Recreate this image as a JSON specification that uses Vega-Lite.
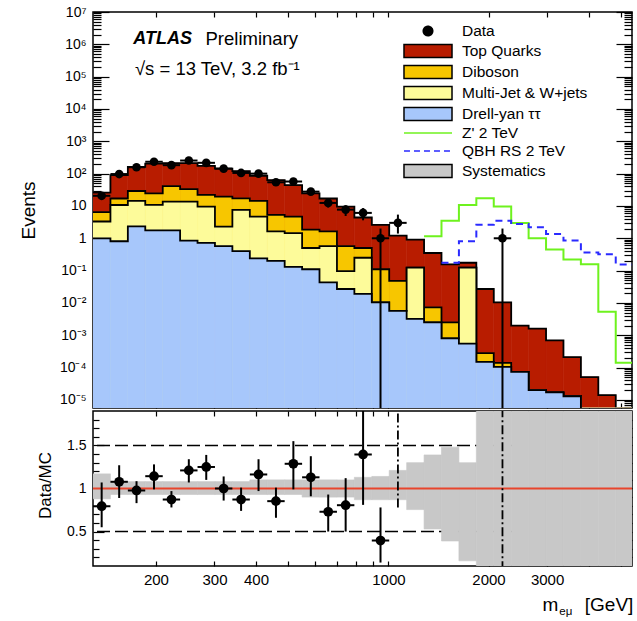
{
  "$schema": "https://vega.github.io/schema/vega-lite/v6.json",
  "background": "white",
  "padding": {"left": 18, "top": 4, "right": 0, "bottom": 0},
  "spacing": 3,
  "bounds": "flush",
  "config": {
    "view": {"stroke": "black", "strokeWidth": 1.5},
    "font": "Liberation Sans",
    "axis": {"grid": false, "labelColor": "black", "titleColor": "black", "tickColor": "black", "labelFont": "Liberation Sans", "titleFont": "Liberation Sans", "titleFontWeight": "normal"},
    "legend": {"orient": "none", "legendX": 327, "legendY": 11, "title": null, "labelFontSize": 15.5, "labelFont": "Liberation Sans", "labelColor": "black", "labelOffset": 26, "rowPadding": 1, "symbolSize": 196, "symbolStrokeWidth": 1.5, "symbolOpacity": 1, "padding": 0, "labelLimit": 400}
  },
  "datasets": {
    "bins": [
      {"lo": 129.4, "hi": 146.0, "c": 137.4, "dy": 1.0, "mj": 3.3, "db": 6.4, "tot": 26, "d": 20.6, "dlo": 16.1, "dhi": 25.1, "r": 0.794, "rlo": 0.55, "rhi": 1.07, "blo": 0.88, "bhi": 1.17},
      {"lo": 146.0, "hi": 164.7, "c": 155.1, "dy": 0.81, "mj": 10.7, "db": 17, "tot": 90, "d": 97, "dlo": 87.2, "dhi": 106.8, "r": 1.078, "rlo": 0.89, "rhi": 1.27, "blo": 0.93, "bhi": 1.08},
      {"lo": 164.7, "hi": 185.8, "c": 174.9, "dy": 2.33, "mj": 14.3, "db": 29, "tot": 162, "d": 158, "dlo": 145.4, "dhi": 170.6, "r": 0.977, "rlo": 0.83, "rhi": 1.085, "blo": 0.93, "bhi": 1.08},
      {"lo": 185.8, "hi": 209.7, "c": 197.4, "dy": 1.76, "mj": 10.8, "db": 24.5, "tot": 204, "d": 233, "dlo": 217.7, "dhi": 248.3, "r": 1.143, "rlo": 0.99, "rhi": 1.28, "blo": 0.93, "bhi": 1.08},
      {"lo": 209.7, "hi": 236.5, "c": 222.7, "dy": 1.76, "mj": 13.6, "db": 41, "tot": 210, "d": 183, "dlo": 169.5, "dhi": 196.5, "r": 0.872, "rlo": 0.78, "rhi": 0.97, "blo": 0.93, "bhi": 1.08},
      {"lo": 236.5, "hi": 266.8, "c": 251.2, "dy": 0.85, "mj": 13.6, "db": 33, "tot": 210, "d": 254, "dlo": 238.1, "dhi": 269.9, "r": 1.21, "rlo": 1.07, "rhi": 1.34, "blo": 0.93, "bhi": 1.08},
      {"lo": 266.8, "hi": 301.0, "c": 283.4, "dy": 0.72, "mj": 9.6, "db": 22, "tot": 173, "d": 216, "dlo": 201.3, "dhi": 230.7, "r": 1.25, "rlo": 1.10, "rhi": 1.39, "blo": 0.93, "bhi": 1.08},
      {"lo": 301.0, "hi": 339.6, "c": 319.7, "dy": 0.57, "mj": 2.3, "db": 19.4, "tot": 143, "d": 143, "dlo": 131, "dhi": 155, "r": 1.0, "rlo": 0.86, "rhi": 1.14, "blo": 0.93, "bhi": 1.08},
      {"lo": 339.6, "hi": 383.2, "c": 360.7, "dy": 0.4, "mj": 7.6, "db": 17.2, "tot": 120, "d": 105, "dlo": 94.8, "dhi": 115.2, "r": 0.872, "rlo": 0.74, "rhi": 1.01, "blo": 0.93, "bhi": 1.08},
      {"lo": 383.2, "hi": 432.3, "c": 407.0, "dy": 0.24, "mj": 4.7, "db": 14.3, "tot": 86, "d": 100, "dlo": 90, "dhi": 110, "r": 1.163, "rlo": 0.97, "rhi": 1.34, "blo": 0.93, "bhi": 1.1},
      {"lo": 432.3, "hi": 487.7, "c": 459.2, "dy": 0.2, "mj": 1.64, "db": 5.3, "tot": 63, "d": 54, "dlo": 46.7, "dhi": 61.3, "r": 0.853, "rlo": 0.66, "rhi": 1.01, "blo": 0.93, "bhi": 1.1},
      {"lo": 487.7, "hi": 550.3, "c": 518.0, "dy": 0.13, "mj": 1.45, "db": 4.7, "tot": 44, "d": 57, "dlo": 49.5, "dhi": 64.5, "r": 1.287, "rlo": 0.99, "rhi": 1.55, "blo": 0.93, "bhi": 1.1},
      {"lo": 550.3, "hi": 620.7, "c": 584.5, "dy": 0.11, "mj": 0.5, "db": 1.85, "tot": 24.5, "d": 27.7, "dlo": 22.4, "dhi": 33, "r": 1.13, "rlo": 0.91, "rhi": 1.375, "blo": 0.9, "bhi": 1.1},
      {"lo": 620.7, "hi": 700.4, "c": 659.3, "dy": 0.043, "mj": 0.57, "db": 1.64, "tot": 17, "d": 12.4, "dlo": 8.9, "dhi": 15.9, "r": 0.73, "rlo": 0.5, "rhi": 0.93, "blo": 0.9, "bhi": 1.1},
      {"lo": 700.4, "hi": 790.2, "c": 743.9, "dy": 0.027, "mj": 0.097, "db": 0.57, "tot": 9.6, "d": 7.7, "dlo": 4.9, "dhi": 10.5, "r": 0.806, "rlo": 0.5, "rhi": 1.12, "blo": 0.9, "bhi": 1.1},
      {"lo": 790.2, "hi": 891.5, "c": 839.3, "dy": 0.019, "mj": 0.25, "db": 0.5, "tot": 4.4, "d": 6.1, "dlo": 3.6, "dhi": 8.6, "r": 1.395, "rlo": 0.81, "rhi": 1.95, "blo": 0.87, "bhi": 1.13},
      {"lo": 891.5, "hi": 1005.7, "c": 946.9, "dy": 0.0104, "mj": 0.0104, "db": 0.11, "tot": 2.6, "d": 1, "dlo": 1e-7, "dhi": 2.0, "r": 0.396, "rlo": 0.14, "rhi": 0.78, "blo": 0.87, "bhi": 1.14},
      {"lo": 1005.7, "hi": 1134.7, "c": 1068.2, "dy": 0.0057, "mj": 0.0057, "db": 0.048, "tot": 1.2, "d": 3, "dlo": 1.4, "dhi": 5.4, "rlo": 0.78, "rhi": 1.95, "blo": 0.87, "bhi": 1.21},
      {"lo": 1134.7, "hi": 1280.1, "c": 1205.2, "dy": 0.0032, "mj": 0.123, "db": 0.123, "tot": 0.91, "blo": 0.755, "bhi": 1.3},
      {"lo": 1280.1, "hi": 1444.2, "c": 1359.7, "dy": 0.0025, "mj": 0.0025, "db": 0.0073, "tot": 0.35, "zp": 1.15, "blo": 0.53, "bhi": 1.39},
      {"lo": 1444.2, "hi": 1629.4, "c": 1534.0, "dy": 0.0008, "mj": 0.0008, "db": 0.0025, "tot": 0.156, "zp": 3.5, "qbh": 0.175, "blo": 0.39, "bhi": 1.48},
      {"lo": 1629.4, "hi": 1838.2, "c": 1730.7, "dy": 0.00055, "mj": 0.123, "db": 0.123, "tot": 0.175, "zp": 10.7, "qbh": 0.81, "blo": 0.16, "bhi": 1.3},
      {"lo": 1838.2, "hi": 2073.9, "c": 1952.5, "dy": 0.00015, "mj": 0.00015, "db": 0.00028, "tot": 0.027, "zp": 17.2, "qbh": 2.6, "blo": 0.05, "bhi": 1.95},
      {"lo": 2073.9, "hi": 2339.9, "c": 2202.8, "dy": 0.000105, "mj": 0.000105, "db": 0.00014, "tot": 0.0104, "zp": 9.6, "qbh": 3.5, "d": 1, "dlo": 1e-7, "dhi": 2.0, "rlo": 0.05, "rhi": 1.95, "blo": 0.05, "bhi": 1.95},
      {"lo": 2339.9, "hi": 2639.9, "c": 2485.4, "dy": 7.4e-5, "mj": 7.4e-5, "db": 7.4e-5, "tot": 0.002, "zp": 2.95, "qbh": 2.75, "blo": 0.05, "bhi": 1.95},
      {"lo": 2639.9, "hi": 2978.3, "c": 2804.0, "dy": 2e-5, "mj": 2e-5, "db": 2e-5, "tot": 0.0016, "zp": 1.0, "qbh": 2.2, "blo": 0.05, "bhi": 1.95},
      {"lo": 2978.3, "hi": 3360.0, "c": 3163.5, "dy": 1.7e-5, "mj": 1.7e-5, "db": 1.7e-5, "tot": 0.00069, "zp": 0.45, "qbh": 1.35, "blo": 0.05, "bhi": 1.95},
      {"lo": 3360.0, "hi": 3790.7, "c": 3568.9, "dy": 1.3e-5, "mj": 1.3e-5, "db": 1.3e-5, "tot": 0.00021, "zp": 0.22, "qbh": 0.85, "blo": 0.05, "bhi": 1.95},
      {"lo": 3790.7, "hi": 4276.8, "c": 4026.4, "dy": 1e-7, "mj": 1e-7, "db": 1e-7, "tot": 5.1e-5, "zp": 0.156, "qbh": 0.36, "blo": 0.05, "bhi": 1.95},
      {"lo": 4276.8, "hi": 4825.0, "c": 4542.7, "dy": 1e-7, "mj": 1e-7, "db": 1e-7, "tot": 1.4e-5, "zp": 0.0053, "qbh": 0.32, "blo": 0.05, "bhi": 1.95},
      {"lo": 4825.0, "hi": 5443.6, "c": 5125.0, "dy": 1e-7, "mj": 1e-7, "db": 1e-7, "tot": 1e-7, "zp": 0.00014, "qbh": 0.155, "blo": 0.05, "bhi": 1.95},
      {"lo": 5443.6, "dy": 1e-7, "mj": 1e-7, "db": 1e-7, "tot": 1e-7, "zp": 0.00014, "qbh": 0.155}
    ]
  },
  "vconcat": [
    {
      "width": 539,
      "height": 396,
      "resolve": {"axis": {"x": "independent", "y": "independent"}},
      "layer": [
        {
          "data": {"name": "bins"},
          "transform": [{"filter": "isValid(datum.hi)"}],
          "mark": {"type": "rect", "color": "#b81c00", "stroke": "#b81c00", "strokeWidth": 0.6, "clip": true},
          "encoding": {
            "x": {"field": "lo", "type": "quantitative", "scale": {"type": "log", "domain": [129.4, 5400], "nice": false},
                  "axis": {"orient": "bottom", "values": [200, 300, 400, 500, 600, 700, 800, 900, 1000, 2000, 3000, 4000, 5000], "labels": false, "domain": false, "tickSize": -5, "tickWidth": 1.2, "title": null}},
            "x2": {"field": "hi"},
            "y": {"field": "tot", "type": "quantitative", "scale": {"type": "log", "domain": [5.62e-6, 1e7], "nice": false},
                  "axis": {"orient": "left", "values": [1e-5, 1e-4, 1e-3, 1e-2, 1e-1, 1, 10, 100, 1000, 1e4, 1e5, 1e6, 1e7], "ticks": false, "domain": false, "labelPadding": 7, "labelFontSize": 14, "labelExpr": "['10⁻⁵','10⁻⁴','10⁻³','10⁻²','10⁻¹','1','10','10²','10³','10⁴','10⁵','10⁶','10⁷'][round(log(datum.value)/LN10)+5]", "title": "Events", "titleFontSize": 19, "titleX": -65, "titleY": 198, "titleAlign": "center", "titleBaseline": "middle", "titleAngle": -90}},
            "y2": {"datum": 5.62e-6}
          }
        },
        {
          "data": {"name": "bins"},
          "mark": {"type": "line", "interpolate": "step-after", "color": "black", "strokeWidth": 1.8, "clip": true},
          "encoding": {
            "x": {"field": "lo", "type": "quantitative", "scale": {"type": "log", "domain": [129.4, 5400], "nice": false},
                  "axis": {"orient": "top", "values": [200, 300, 400, 500, 600, 700, 800, 900, 1000, 2000, 3000, 4000, 5000], "labels": false, "domain": false, "tickSize": -5, "tickWidth": 1.2, "title": null}},
            "y": {"field": "tot", "type": "quantitative", "scale": {"type": "log", "domain": [5.62e-6, 1e7], "nice": false},
                  "axis": {"orient": "left", "values": [6e-6, 7e-6, 8e-6, 9e-6, 1e-5, 2e-5, 3e-5, 4e-5, 5e-5, 6e-5, 7e-5, 8e-5, 9e-5, 1e-4, 2e-4, 3e-4, 4e-4, 5e-4, 6e-4, 7e-4, 8e-4, 9e-4, 1e-3, 2e-3, 3e-3, 4e-3, 5e-3, 6e-3, 7e-3, 8e-3, 9e-3, 0.01, 0.02, 0.03, 0.04, 0.05, 0.06, 0.07, 0.08, 0.09, 0.1, 0.2, 0.3, 0.4, 0.5, 0.6, 0.7, 0.8, 0.9, 1, 2, 3, 4, 5, 6, 7, 8, 9, 10, 20, 30, 40, 50, 60, 70, 80, 90, 100, 200, 300, 400, 500, 600, 700, 800, 900, 1000, 2000, 3000, 4000, 5000, 6000, 7000, 8000, 9000, 1e4, 2e4, 3e4, 4e4, 5e4, 6e4, 7e4, 8e4, 9e4, 1e5, 2e5, 3e5, 4e5, 5e5, 6e5, 7e5, 8e5, 9e5, 1e6, 2e6, 3e6, 4e6, 5e6, 6e6, 7e6, 8e6, 9e6, 1e7], "labels": false, "domain": false, "title": null, "tickWidth": 1.2,
                           "tickSize": {"condition": {"test": "abs(log(datum.value)/LN10 - round(log(datum.value)/LN10)) < 0.01", "value": -16}, "value": -8}}}
          }
        },
        {
          "data": {"name": "bins"},
          "transform": [{"filter": "isValid(datum.hi)"}],
          "mark": {"type": "rect", "color": "#f7c600", "stroke": "#f7c600", "strokeWidth": 0.6, "clip": true},
          "encoding": {
            "x": {"field": "lo", "type": "quantitative", "scale": {"type": "log", "domain": [129.4, 5400], "nice": false}, "axis": null},
            "x2": {"field": "hi"},
            "y": {"field": "db", "type": "quantitative", "scale": {"type": "log", "domain": [5.62e-6, 1e7], "nice": false},
                  "axis": {"orient": "right", "values": [6e-6, 7e-6, 8e-6, 9e-6, 1e-5, 2e-5, 3e-5, 4e-5, 5e-5, 6e-5, 7e-5, 8e-5, 9e-5, 1e-4, 2e-4, 3e-4, 4e-4, 5e-4, 6e-4, 7e-4, 8e-4, 9e-4, 1e-3, 2e-3, 3e-3, 4e-3, 5e-3, 6e-3, 7e-3, 8e-3, 9e-3, 0.01, 0.02, 0.03, 0.04, 0.05, 0.06, 0.07, 0.08, 0.09, 0.1, 0.2, 0.3, 0.4, 0.5, 0.6, 0.7, 0.8, 0.9, 1, 2, 3, 4, 5, 6, 7, 8, 9, 10, 20, 30, 40, 50, 60, 70, 80, 90, 100, 200, 300, 400, 500, 600, 700, 800, 900, 1000, 2000, 3000, 4000, 5000, 6000, 7000, 8000, 9000, 1e4, 2e4, 3e4, 4e4, 5e4, 6e4, 7e4, 8e4, 9e4, 1e5, 2e5, 3e5, 4e5, 5e5, 6e5, 7e5, 8e5, 9e5, 1e6, 2e6, 3e6, 4e6, 5e6, 6e6, 7e6, 8e6, 9e6, 1e7], "labels": false, "domain": false, "title": null, "tickWidth": 1.2,
                           "tickSize": {"condition": {"test": "abs(log(datum.value)/LN10 - round(log(datum.value)/LN10)) < 0.01", "value": -16}, "value": -8}}},
            "y2": {"datum": 5.62e-6}
          }
        },
        {
          "data": {"name": "bins"},
          "mark": {"type": "line", "interpolate": "step-after", "color": "black", "strokeWidth": 1.8, "clip": true},
          "encoding": {
            "x": {"field": "lo", "type": "quantitative", "scale": {"type": "log", "domain": [129.4, 5400], "nice": false}, "axis": null},
            "y": {"field": "db", "type": "quantitative", "scale": {"type": "log", "domain": [5.62e-6, 1e7], "nice": false}, "axis": null}
          }
        },
        {
          "data": {"name": "bins"},
          "transform": [{"filter": "isValid(datum.hi)"}],
          "mark": {"type": "rect", "color": "#fdfb9a", "stroke": "#fdfb9a", "strokeWidth": 0.6, "clip": true},
          "encoding": {
            "x": {"field": "lo", "type": "quantitative", "scale": {"type": "log", "domain": [129.4, 5400], "nice": false}, "axis": null},
            "x2": {"field": "hi"},
            "y": {"field": "mj", "type": "quantitative", "scale": {"type": "log", "domain": [5.62e-6, 1e7], "nice": false}, "axis": null},
            "y2": {"datum": 5.62e-6}
          }
        },
        {
          "data": {"name": "bins"},
          "mark": {"type": "line", "interpolate": "step-after", "color": "black", "strokeWidth": 1.8, "clip": true},
          "encoding": {
            "x": {"field": "lo", "type": "quantitative", "scale": {"type": "log", "domain": [129.4, 5400], "nice": false}, "axis": null},
            "y": {"field": "mj", "type": "quantitative", "scale": {"type": "log", "domain": [5.62e-6, 1e7], "nice": false}, "axis": null}
          }
        },
        {
          "data": {"name": "bins"},
          "transform": [{"filter": "isValid(datum.hi)"}],
          "mark": {"type": "rect", "color": "#a7c7fb", "stroke": "#a7c7fb", "strokeWidth": 0.6, "clip": true},
          "encoding": {
            "x": {"field": "lo", "type": "quantitative", "scale": {"type": "log", "domain": [129.4, 5400], "nice": false}, "axis": null},
            "x2": {"field": "hi"},
            "y": {"field": "dy", "type": "quantitative", "scale": {"type": "log", "domain": [5.62e-6, 1e7], "nice": false}, "axis": null},
            "y2": {"datum": 5.62e-6}
          }
        },
        {
          "data": {"name": "bins"},
          "mark": {"type": "line", "interpolate": "step-after", "color": "black", "strokeWidth": 1.8, "clip": true},
          "encoding": {
            "x": {"field": "lo", "type": "quantitative", "scale": {"type": "log", "domain": [129.4, 5400], "nice": false}, "axis": null},
            "y": {"field": "dy", "type": "quantitative", "scale": {"type": "log", "domain": [5.62e-6, 1e7], "nice": false}, "axis": null}
          }
        },
        {
          "data": {"name": "bins"},
          "transform": [{"filter": "isValid(datum.zp)"}],
          "mark": {"type": "line", "interpolate": "step-after", "color": "#6ef21e", "strokeWidth": 2, "clip": true},
          "encoding": {
            "x": {"field": "lo", "type": "quantitative", "scale": {"type": "log", "domain": [129.4, 5400], "nice": false}, "axis": null},
            "y": {"field": "zp", "type": "quantitative", "scale": {"type": "log", "domain": [5.62e-6, 1e7], "nice": false}, "axis": null}
          }
        },
        {
          "data": {"name": "bins"},
          "transform": [{"filter": "isValid(datum.qbh)"}],
          "mark": {"type": "line", "interpolate": "step-after", "color": "#2a2aff", "strokeWidth": 2, "strokeDash": [7, 5], "clip": true},
          "encoding": {
            "x": {"field": "lo", "type": "quantitative", "scale": {"type": "log", "domain": [129.4, 5400], "nice": false}, "axis": null},
            "y": {"field": "qbh", "type": "quantitative", "scale": {"type": "log", "domain": [5.62e-6, 1e7], "nice": false}, "axis": null}
          }
        },
        {
          "data": {"name": "bins"},
          "transform": [{"filter": "isValid(datum.d)"}],
          "mark": {"type": "rule", "color": "black", "strokeWidth": 2, "clip": true},
          "encoding": {
            "x": {"field": "c", "type": "quantitative", "scale": {"type": "log", "domain": [129.4, 5400], "nice": false}, "axis": null},
            "y": {"field": "dlo", "type": "quantitative", "scale": {"type": "log", "domain": [5.62e-6, 1e7], "nice": false}, "axis": null},
            "y2": {"field": "dhi"}
          }
        },
        {
          "data": {"name": "bins"},
          "transform": [{"filter": "isValid(datum.d)"}],
          "mark": {"type": "rule", "color": "black", "strokeWidth": 2, "clip": true},
          "encoding": {
            "x": {"field": "lo", "type": "quantitative", "scale": {"type": "log", "domain": [129.4, 5400], "nice": false}, "axis": null},
            "x2": {"field": "hi"},
            "y": {"field": "d", "type": "quantitative", "scale": {"type": "log", "domain": [5.62e-6, 1e7], "nice": false}, "axis": null}
          }
        },
        {
          "data": {"name": "bins"},
          "transform": [{"filter": "isValid(datum.d)"}],
          "mark": {"type": "point", "shape": "circle", "filled": true, "color": "black", "size": 75, "opacity": 1},
          "encoding": {
            "x": {"field": "c", "type": "quantitative", "scale": {"type": "log", "domain": [129.4, 5400], "nice": false}, "axis": null},
            "y": {"field": "d", "type": "quantitative", "scale": {"type": "log", "domain": [5.62e-6, 1e7], "nice": false}, "axis": null}
          }
        },
        {
          "data": {"values": [{}]},
          "mark": {"type": "text", "text": "ATLAS", "fontSize": 18, "fontStyle": "italic", "fontWeight": "bold", "align": "left", "baseline": "middle", "color": "black"},
          "encoding": {
            "x": {"datum": 171, "type": "quantitative", "scale": {"type": "log", "domain": [129.4, 5400], "nice": false}, "axis": null},
            "y": {"datum": 1.5e6, "type": "quantitative", "scale": {"type": "log", "domain": [5.62e-6, 1e7], "nice": false}, "axis": null}
          }
        },
        {
          "data": {"values": [{}]},
          "mark": {"type": "text", "text": "Preliminary", "fontSize": 18.5, "align": "left", "baseline": "middle", "color": "black"},
          "encoding": {
            "x": {"datum": 282, "type": "quantitative", "scale": {"type": "log", "domain": [129.4, 5400], "nice": false}, "axis": null},
            "y": {"datum": 1.5e6, "type": "quantitative", "scale": {"type": "log", "domain": [5.62e-6, 1e7], "nice": false}, "axis": null}
          }
        },
        {
          "data": {"values": [{}]},
          "mark": {"type": "text", "text": "√s = 13 TeV, 3.2 fb⁻¹", "fontSize": 18.5, "align": "left", "baseline": "middle", "color": "black"},
          "encoding": {
            "x": {"datum": 173, "type": "quantitative", "scale": {"type": "log", "domain": [129.4, 5400], "nice": false}, "axis": null},
            "y": {"datum": 1.7e5, "type": "quantitative", "scale": {"type": "log", "domain": [5.62e-6, 1e7], "nice": false}, "axis": null}
          }
        },
        {
          "data": {"values": [{"lab": "Data"}, {"lab": "Top Quarks"}, {"lab": "Diboson"}, {"lab": "Multi-Jet & W+jets"}, {"lab": "Drell-yan ττ"}, {"lab": "Z' 2 TeV"}, {"lab": "QBH RS 2 TeV"}, {"lab": "Systematics"}]},
          "mark": {"type": "point", "filled": true, "opacity": 0},
          "encoding": {
            "fill": {"field": "lab", "type": "nominal",
                     "scale": {"domain": ["Data", "Top Quarks", "Diboson", "Multi-Jet & W+jets", "Drell-yan ττ", "Z' 2 TeV", "QBH RS 2 TeV", "Systematics"], "range": ["black", "#b81c00", "#f7c600", "#fdfb9a", "#a7c7fb", "transparent", "transparent", "#c8c8c8"]}},
            "stroke": {"field": "lab", "type": "nominal",
                       "scale": {"domain": ["Data", "Top Quarks", "Diboson", "Multi-Jet & W+jets", "Drell-yan ττ", "Z' 2 TeV", "QBH RS 2 TeV", "Systematics"], "range": ["black", "black", "black", "black", "black", "#6ef21e", "#2a2aff", "black"]}},
            "shape": {"field": "lab", "type": "nominal",
                      "scale": {"domain": ["Data", "Top Quarks", "Diboson", "Multi-Jet & W+jets", "Drell-yan ττ", "Z' 2 TeV", "QBH RS 2 TeV", "Systematics"], "range": ["M-0.68,0A0.68,0.68,0,1,1,0.68,0A0.68,0.68,0,1,1,-0.68,0Z", "M-3.43,-0.93H3.43V0.93H-3.43Z", "M-3.43,-0.93H3.43V0.93H-3.43Z", "M-3.43,-0.93H3.43V0.93H-3.43Z", "M-3.43,-0.93H3.43V0.93H-3.43Z", "M-3.43,0H3.43", "M-3.43,0H3.43", "M-3.43,-0.93H3.43V0.93H-3.43Z"]}},
            "strokeDash": {"field": "lab", "type": "nominal",
                           "scale": {"domain": ["Data", "Top Quarks", "Diboson", "Multi-Jet & W+jets", "Drell-yan ττ", "Z' 2 TeV", "QBH RS 2 TeV", "Systematics"], "range": [[1, 0], [1, 0], [1, 0], [1, 0], [1, 0], [1, 0], [6, 4], [1, 0]]}}
          }
        }
      ]
    },
    {
      "width": 539,
      "height": 155,
      "resolve": {"axis": {"x": "independent", "y": "independent"}},
      "layer": [
        {
          "data": {"values": [{"lvl": 0.5}, {"lvl": 1.5}]},
          "mark": {"type": "rule", "color": "black", "strokeWidth": 1.5, "strokeDash": [13, 5]},
          "encoding": {
            "y": {"field": "lvl", "type": "quantitative", "scale": {"domain": [0.1, 1.9], "nice": false, "zero": false},
                  "axis": {"orient": "left", "values": [0.5, 1, 1.5], "format": ".1~f", "ticks": false, "domain": false, "labelPadding": 7, "labelFontSize": 14, "title": "Data/MC", "titleFontSize": 17, "titleX": -48, "titleY": 74, "titleAlign": "center", "titleBaseline": "middle", "titleAngle": -90}}
          }
        },
        {
          "data": {"name": "bins"},
          "transform": [{"filter": "isValid(datum.hi) && isValid(datum.blo)"}],
          "mark": {"type": "rect", "color": "#c8c8c8", "stroke": "#c8c8c8", "strokeWidth": 0.6, "clip": true},
          "encoding": {
            "x": {"field": "lo", "type": "quantitative", "scale": {"type": "log", "domain": [129.4, 5400], "nice": false},
                  "axis": {"orient": "bottom", "values": [200, 300, 400, 1000, 2000, 3000], "format": "d", "ticks": false, "domain": false, "labelPadding": 6, "labelFontSize": 15, "labelFlush": false, "labelOverlap": false, "title": null}},
            "x2": {"field": "hi"},
            "y": {"field": "blo", "type": "quantitative", "scale": {"domain": [0.1, 1.9], "nice": false, "zero": false},
                  "axis": {"orient": "left", "values": [0.2, 0.3, 0.4, 0.5, 0.6, 0.7, 0.8, 0.9, 1, 1.1, 1.2, 1.3, 1.4, 1.5, 1.6, 1.7, 1.8], "labels": false, "domain": false, "title": null, "tickWidth": 1.2,
                           "tickSize": {"condition": {"test": "abs(datum.value*2 - round(datum.value*2)) < 0.01", "value": -11}, "value": -6}}},
            "y2": {"field": "bhi"}
          }
        },
        {
          "data": {"values": [{}]},
          "mark": {"type": "rule", "color": "#e8452c", "strokeWidth": 2},
          "encoding": {
            "y": {"datum": 1, "type": "quantitative", "scale": {"domain": [0.1, 1.9], "nice": false, "zero": false},
                  "axis": {"orient": "right", "values": [0.2, 0.3, 0.4, 0.5, 0.6, 0.7, 0.8, 0.9, 1, 1.1, 1.2, 1.3, 1.4, 1.5, 1.6, 1.7, 1.8], "labels": false, "domain": false, "title": null, "tickWidth": 1.2,
                           "tickSize": {"condition": {"test": "abs(datum.value*2 - round(datum.value*2)) < 0.01", "value": -11}, "value": -6}}}
          }
        },
        {
          "data": {"name": "bins"},
          "transform": [{"filter": "isValid(datum.r)"}],
          "mark": {"type": "rule", "color": "black", "strokeWidth": 2, "clip": true},
          "encoding": {
            "x": {"field": "c", "type": "quantitative", "scale": {"type": "log", "domain": [129.4, 5400], "nice": false},
                  "axis": {"orient": "bottom", "values": [200, 300, 400, 500, 600, 700, 800, 900, 1000, 2000, 3000, 4000, 5000], "labels": false, "domain": false, "tickSize": -5, "tickWidth": 1.2, "title": null}},
            "y": {"field": "rlo", "type": "quantitative", "scale": {"domain": [0.1, 1.9], "nice": false, "zero": false}, "axis": null},
            "y2": {"field": "rhi"}
          }
        },
        {
          "data": {"name": "bins"},
          "transform": [{"filter": "isValid(datum.r)"}],
          "mark": {"type": "rule", "color": "black", "strokeWidth": 2, "clip": true},
          "encoding": {
            "x": {"field": "lo", "type": "quantitative", "scale": {"type": "log", "domain": [129.4, 5400], "nice": false},
                  "axis": {"orient": "top", "values": [200, 300, 400, 500, 600, 700, 800, 900, 1000, 2000, 3000, 4000, 5000], "labels": false, "domain": false, "tickSize": -5, "tickWidth": 1.2, "title": null}},
            "x2": {"field": "hi"},
            "y": {"field": "r", "type": "quantitative", "scale": {"domain": [0.1, 1.9], "nice": false, "zero": false}, "axis": null}
          }
        },
        {
          "data": {"name": "bins"},
          "transform": [{"filter": "isValid(datum.r)"}],
          "mark": {"type": "point", "shape": "circle", "filled": true, "color": "black", "size": 95, "opacity": 1},
          "encoding": {
            "x": {"field": "c", "type": "quantitative", "scale": {"type": "log", "domain": [129.4, 5400], "nice": false}, "axis": null},
            "y": {"field": "r", "type": "quantitative", "scale": {"domain": [0.1, 1.9], "nice": false, "zero": false}, "axis": null}
          }
        },
        {
          "data": {"name": "bins"},
          "transform": [{"filter": "isValid(datum.rlo) && !isValid(datum.r)"}],
          "mark": {"type": "rule", "color": "black", "strokeWidth": 1.8, "strokeDash": [9, 3, 2, 3], "clip": true},
          "encoding": {
            "x": {"field": "c", "type": "quantitative", "scale": {"type": "log", "domain": [129.4, 5400], "nice": false}, "axis": null},
            "y": {"field": "rlo", "type": "quantitative", "scale": {"domain": [0.1, 1.9], "nice": false, "zero": false}, "axis": null},
            "y2": {"field": "rhi"}
          }
        },
        {
          "data": {"values": [{}]},
          "mark": {"type": "text", "text": "m", "fontSize": 19, "align": "right", "baseline": "alphabetic", "color": "black"},
          "encoding": {
            "x": {"datum": 3242, "type": "quantitative", "scale": {"type": "log", "domain": [129.4, 5400], "nice": false}, "axis": null},
            "y": {"datum": -0.42, "type": "quantitative", "scale": {"domain": [0.1, 1.9], "nice": false, "zero": false}, "axis": null}
          }
        },
        {
          "data": {"values": [{}]},
          "mark": {"type": "text", "text": "eμ", "fontSize": 11.5, "align": "left", "baseline": "alphabetic", "color": "black"},
          "encoding": {
            "x": {"datum": 3265, "type": "quantitative", "scale": {"type": "log", "domain": [129.4, 5400], "nice": false}, "axis": null},
            "y": {"datum": -0.47, "type": "quantitative", "scale": {"domain": [0.1, 1.9], "nice": false, "zero": false}, "axis": null}
          }
        },
        {
          "data": {"values": [{}]},
          "mark": {"type": "text", "text": "[GeV]", "fontSize": 19, "align": "right", "baseline": "alphabetic", "color": "black"},
          "encoding": {
            "x": {"datum": 5450, "type": "quantitative", "scale": {"type": "log", "domain": [129.4, 5400], "nice": false}, "axis": null},
            "y": {"datum": -0.42, "type": "quantitative", "scale": {"domain": [0.1, 1.9], "nice": false, "zero": false}, "axis": null}
          }
        }
      ]
    }
  ]
}
